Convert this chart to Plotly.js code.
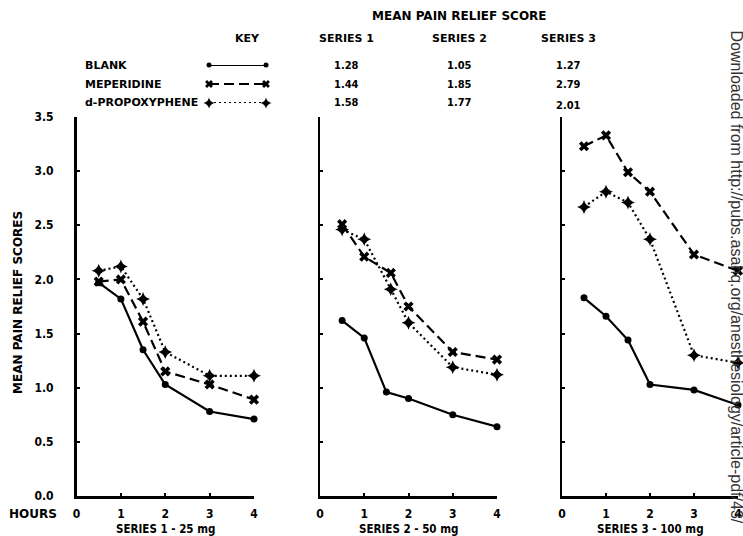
<!DOCTYPE html>
<html>
<head>
<meta charset="utf-8">
<script src="https://cdn.plot.ly/plotly-3.0.1.min.js"></script>
<style>
  html, body { margin: 0; padding: 0; background: #fff; }
  #chart { width: 743px; height: 536px; }
</style>
</head>
<body>
<div id="chart"></div>
<script>
// ---------- data ----------
const hours = [0.5, 1, 1.5, 2, 3, 4];
const hoursS2Drug = [0.5, 1, 1.6, 2, 3, 4];
const hourTicks = [0, 1, 2, 3, 4];
const scoreTicks = [0, 0.5, 1, 1.5, 2, 2.5, 3, 3.5];

const blankS1 = [1.97, 1.82, 1.35, 1.03, 0.78, 0.71];
const meperS1 = [1.98, 2.00, 1.61, 1.15, 1.03, 0.89];
const propoS1 = [2.08, 2.12, 1.82, 1.33, 1.11, 1.11];

const blankS2 = [1.62, 1.46, 0.96, 0.90, 0.75, 0.64];
const meperS2 = [2.51, 2.21, 2.06, 1.75, 1.33, 1.26];
const propoS2 = [2.46, 2.37, 1.91, 1.60, 1.19, 1.12];

const blankS3 = [1.83, 1.66, 1.44, 1.03, 0.98, 0.84];
const meperS3 = [3.23, 3.33, 2.99, 2.81, 2.23, 2.08];
const propoS3 = [2.67, 2.81, 2.71, 2.37, 1.30, 1.23];

const drugNames = ["BLANK", "MEPERIDINE", "d-PROPOXYPHENE"];
const seriesHeaders = ["SERIES 1", "SERIES 2", "SERIES 3"];
const meanSeries1 = ["1.28", "1.44", "1.58"];
const meanSeries2 = ["1.05", "1.85", "1.77"];
const meanSeries3 = ["1.27", "2.79", "2.01"];
const panelTitles = ["SERIES 1 - 25 mg", "SERIES 2 - 50 mg", "SERIES 3 - 100 mg"];
const keyRows = [1, 2, 3];

// ---------- layout helpers ----------
const W = 743, H = 536;
const px = v => v / W;
const py = v => 1 - v / H;
const FONT_C = "DejaVu Sans Condensed, Liberation Sans Narrow, sans-serif";
const FONT_W = "DejaVu Sans, Verdana, sans-serif";
const boldFont = (size, fam) => ({ family: fam || FONT_C, size: size, color: "#000", weight: 700 });

const styles = {
  blank: { line: { color: "#000", width: 2.2, dash: "solid" }, marker: { symbol: "circle", size: 7, color: "#000" } },
  meper: { line: { color: "#000", width: 2.2, dash: "10px,5px" }, marker: { symbol: "x", size: 9, color: "#000" } },
  propo: { line: { color: "#000", width: 2.2, dash: "2px,3px" }, marker: { symbol: "star-diamond", size: 10, color: "#000" } }
};

function trace(x, y, st, axIdx) {
  const suffix = axIdx === 1 ? "" : String(axIdx);
  return {
    x: x, y: y, type: "scatter", mode: "lines+markers",
    line: st.line, marker: st.marker,
    xaxis: "x" + suffix, yaxis: "y" + suffix,
    cliponaxis: false, showlegend: false, hoverinfo: "skip"
  };
}

const data = [
  trace(hours, blankS1, styles.blank, 1),
  trace(hours, meperS1, styles.meper, 1),
  trace(hours, propoS1, styles.propo, 1),
  trace(hours, blankS2, styles.blank, 2),
  trace(hoursS2Drug, meperS2, styles.meper, 2),
  trace(hoursS2Drug, propoS2, styles.propo, 2),
  trace(hours, blankS3, styles.blank, 3),
  trace(hours, meperS3, styles.meper, 3),
  trace(hours, propoS3, styles.propo, 3)
];

// key samples on their own hidden axis
const keyStyles = [styles.blank, styles.meper, styles.propo];
keyRows.forEach((r, i) => {
  data.push({
    x: [0, 1], y: [r, r], type: "scatter", mode: "lines+markers",
    line: Object.assign({}, keyStyles[i].line, { width: 1.8 }),
    marker: Object.assign({}, keyStyles[i].marker, { size: keyStyles[i].marker.size - 2 }),
    xaxis: "x4", yaxis: "y4", cliponaxis: false, showlegend: false, hoverinfo: "skip"
  });
});

const panelX = [[76.5, 254], [320, 497], [562, 738]];
const yDom = [py(496), py(117)];

function xAxis(i) {
  return {
    domain: [px(panelX[i][0]), px(panelX[i][1])],
    range: [0, 4], anchor: i === 0 ? "y" : "y" + (i + 1),
    tickvals: hourTicks, ticktext: hourTicks.map(String),
    showline: true, linecolor: "#000", linewidth: 2.5,
    ticks: "inside", ticklen: 3, tickwidth: 2, tickcolor: "#000",
    showgrid: false, zeroline: false,
    tickfont: boldFont(12), ticklabelstandoff: 5, fixedrange: true
  };
}
function yAxis(i) {
  return {
    domain: yDom, range: [0, 3.5], anchor: i === 0 ? "x" : "x" + (i + 1),
    tickvals: scoreTicks, tickformat: ".1f",
    showticklabels: i === 0,
    showline: true, linecolor: "#000", linewidth: 2.5,
    ticks: "inside", ticklen: 3, tickwidth: 2, tickcolor: "#000",
    showgrid: false, zeroline: false,
    tickfont: boldFont(12), ticklabelstandoff: 18, fixedrange: true
  };
}

const annotations = [];
function ann(text, x, y, font, xanchor, extra) {
  annotations.push(Object.assign({
    text: text, x: x, y: y, xref: "paper", yref: "paper",
    xanchor: xanchor || "center", yanchor: "middle",
    showarrow: false, font: font
  }, extra || {}));
}

ann("MEAN PAIN RELIEF SCORE", px(459), py(16), boldFont(12, FONT_W));
ann("KEY", px(247), py(38), boldFont(11, FONT_W));
const colX = [346, 459, 568];
seriesHeaders.forEach((s, i) => ann(s, px(colX[i]), py(38), boldFont(11, FONT_W)));
const rowY = [65, 84, 103];
drugNames.forEach((n, i) => ann(n, px(83), py(rowY[i]), boldFont(11, FONT_W), "left"));
[meanSeries1, meanSeries2, meanSeries3].forEach((col, c) => {
  col.forEach((v, r) => ann(v, px(colX[c]), py(rowY[r] + (c === 2 && r === 2 ? 3 : 0)), boldFont(11, FONT_C)));
});
ann("MEAN PAIN RELIEF SCORES", px(18), py(303), boldFont(12, FONT_W), "center", { textangle: -90 });
ann("HOURS", px(33), py(514), boldFont(12, FONT_W));
panelTitles.forEach((t, i) => ann(t, px((panelX[i][0] + panelX[i][1]) / 2), py(529), boldFont(11.5, FONT_C)));
ann("Downloaded from http://pubs.asahq.org/anesthesiology/article-pdf/43/", px(736), py(28), 
    { family: "Liberation Sans, Arial, sans-serif", size: 16, color: "#333" }, "center",
    { textangle: 90, yanchor: "top" });

const layout = {
  width: W, height: H,
  margin: { l: 0, r: 0, t: 0, b: 0 },
  paper_bgcolor: "#fff", plot_bgcolor: "rgba(0,0,0,0)",
  showlegend: false,
  xaxis: xAxis(0), yaxis: yAxis(0),
  xaxis2: xAxis(1), yaxis2: yAxis(1),
  xaxis3: xAxis(2), yaxis3: yAxis(2),
  xaxis4: { domain: [px(209), px(266)], range: [0, 1], visible: false, anchor: "y4", fixedrange: true },
  yaxis4: { domain: [py(103), py(65)], range: [3, 1], visible: false, anchor: "x4", fixedrange: true },
  annotations: annotations
};

Plotly.newPlot("chart", data, layout, { staticPlot: true, displayModeBar: false });
</script>
</body>
</html>
